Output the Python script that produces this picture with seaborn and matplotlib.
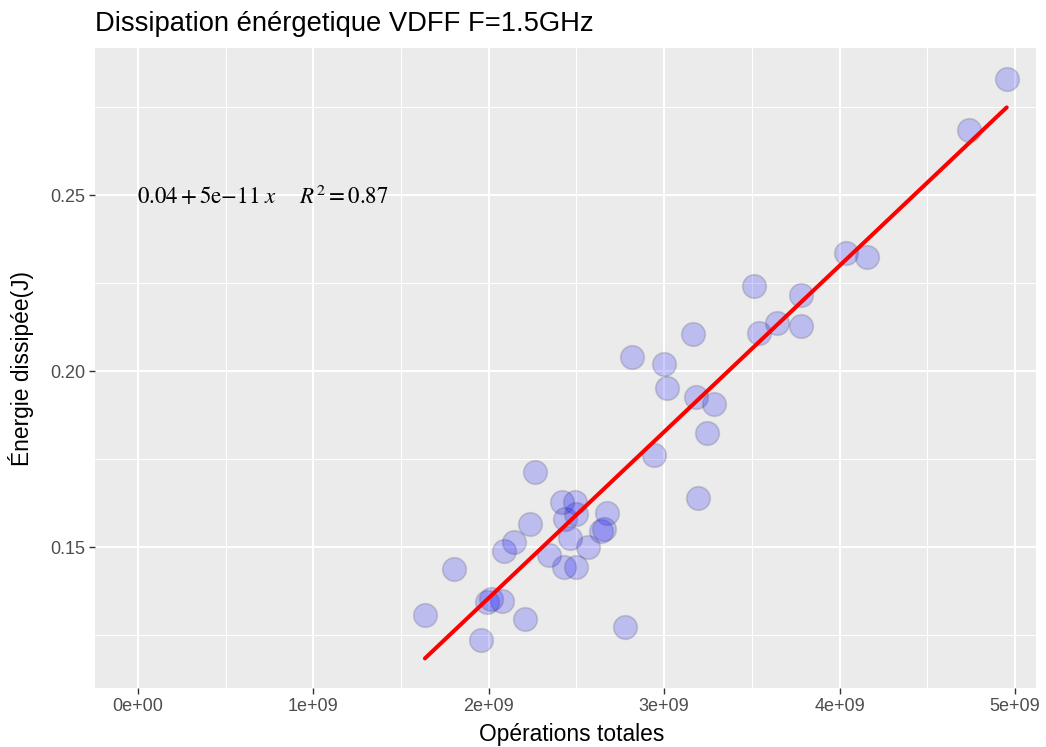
import matplotlib
matplotlib.use("Agg")
import matplotlib.pyplot as plt
import seaborn as sns
import numpy as np
import pandas as pd
from matplotlib.ticker import MultipleLocator, FuncFormatter

# Data (x in units of 1e9 operations, y in joules)
ops_e9 = [1.636, 1.802, 1.954, 1.990, 2.010, 2.073, 2.087, 2.145, 2.206, 2.235,
          2.263, 2.343, 2.416, 2.429, 2.434, 2.463, 2.491, 2.495, 2.495, 2.567,
          2.640, 2.657, 2.672, 2.776, 2.816, 2.940, 3.001, 3.014, 3.166, 3.181,
          3.194, 3.242, 3.284, 3.512, 3.540, 3.645, 3.780, 3.780, 4.035, 4.154,
          4.740, 4.953]
energy = [0.1307, 0.1439, 0.1236, 0.1345, 0.1352, 0.1348, 0.1490, 0.1515, 0.1297, 0.1565,
          0.1714, 0.1477, 0.1629, 0.1444, 0.1579, 0.1525, 0.1629, 0.1594, 0.1444, 0.1501,
          0.1547, 0.1553, 0.1597, 0.1272, 0.2041, 0.1761, 0.2019, 0.1951, 0.2107, 0.1927,
          0.1640, 0.1823, 0.1908, 0.2242, 0.2109, 0.2138, 0.2216, 0.2128, 0.2336, 0.2323,
          0.2685, 0.2829]

title = "Dissipation énérgetique VDFF F=1.5GHz"
xlabel = "Opérations totales"
ylabel = "Énergie dissipée(J)"
eq_label = r"$0.04 + 5\mathrm{e}{-}11\ x\quad\,\ R^{2} = 0.87$"

df = pd.DataFrame({"ops": np.array(ops_e9) * 1e9, "energy": energy})

sns.set_theme(style="darkgrid")
plt.rcParams.update({
    "font.family": ["Liberation Sans", "DejaVu Sans"],
    "axes.facecolor": "#EBEBEB",
    "figure.facecolor": "white",
    "grid.color": "white",
    "mathtext.fontset": "stix",
})

fig = plt.figure(figsize=(10.46, 7.47), dpi=100)
ax = fig.add_axes([95 / 1046, 59 / 747, 941 / 1046, 640 / 747])

sns.scatterplot(data=df, x="ops", y="energy", ax=ax, s=290,
                color="blue", alpha=0.2, edgecolor=(0.25, 0.25, 0.25),
                linewidth=1.2, zorder=3)
sns.regplot(data=df, x="ops", y="energy", ax=ax, scatter=False, ci=None,
            truncate=True, color="red", line_kws={"linewidth": 2.9, "zorder": 4})

ax.set_xlim(-0.245e9, 5.12e9)
ax.set_ylim(0.1100, 0.2918)

ax.xaxis.set_major_locator(MultipleLocator(1e9))
ax.xaxis.set_minor_locator(MultipleLocator(0.5e9))
ax.yaxis.set_major_locator(MultipleLocator(0.05))
ax.yaxis.set_minor_locator(MultipleLocator(0.025))
ax.xaxis.set_major_formatter(FuncFormatter(lambda v, p: f"{int(round(v/1e9))}e+{'00' if round(v/1e9)==0 else '09'}"))
ax.yaxis.set_major_formatter(FuncFormatter(lambda v, p: f"{v:.2f}"))

ax.grid(which="major", color="white", linewidth=1.5)
ax.grid(which="minor", color="white", linewidth=0.75)
ax.set_axisbelow(True)
for s in ax.spines.values():
    s.set_visible(False)

ax.tick_params(axis="both", which="major", length=4, width=1, color="#333333",
               labelsize=13, labelcolor="#4D4D4D", pad=3, bottom=True, left=True)
ax.tick_params(axis="both", which="minor", length=0)

ax.set_xlabel(xlabel, fontsize=16.4, color="black")
ax.set_ylabel(ylabel, fontsize=16.4, color="black")
ax.xaxis.set_label_coords(0.507, -0.055)
ax.yaxis.set_label_coords(-0.0648, 0.5)
ax.set_title(title, loc="left", fontsize=19.7, color="black", pad=12)

ax.text(0.0447, 0.767, eq_label, transform=ax.transAxes, fontsize=16.5,
        ha="left", va="center", color="black")

fig.savefig("out.png", dpi=100)
